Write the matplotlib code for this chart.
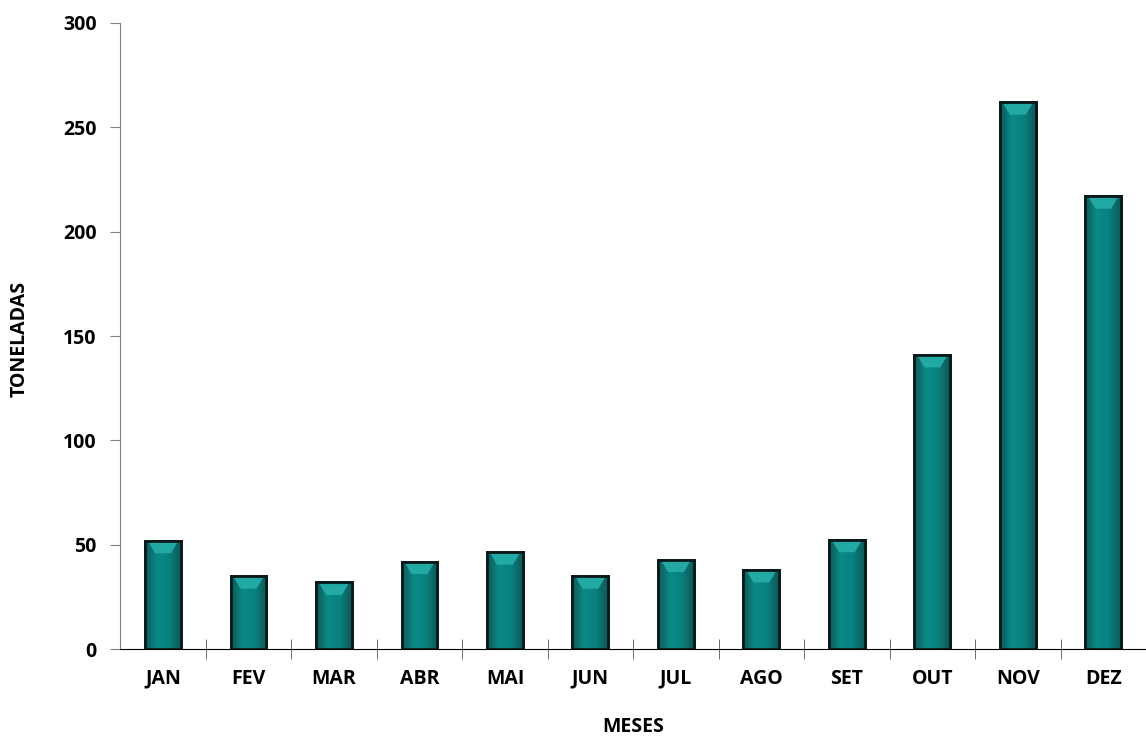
import numpy as np
import matplotlib
matplotlib.use("Agg")
import matplotlib.pyplot as plt
from matplotlib.colors import LinearSegmentedColormap

# Data
months = ["JAN", "FEV", "MAR", "ABR", "MAI", "JUN", "JUL", "AGO", "SET", "OUT", "NOV", "DEZ"]
tons = [52, 35, 32, 42, 46.5, 35, 43, 38, 52.5, 141, 262, 217]

plt.rcParams['font.family'] = ['Open Sans', 'DejaVu Sans']

fig = plt.figure(figsize=(11.46, 7.37), dpi=100)
ax = fig.add_axes([0.105, 0.119, 0.895, 0.85])

x = np.arange(len(months))
bars = ax.bar(x, tons, width=0.42, color="#008080", edgecolor="#0a1a1a", linewidth=2, zorder=2)

# bevel-like shading: dark sides, lighter centre
cmap = LinearSegmentedColormap.from_list("bevel", ["#0d5a58", "#0a8a87", "#08807e", "#0d5a58"])
grad = np.linspace(0, 1, 64).reshape(1, -1)
for b in bars:
    x0, w, h = b.get_x(), b.get_width(), b.get_height()
    im = ax.imshow(grad, cmap=cmap, aspect="auto", extent=[x0, x0 + w, 0, h], zorder=2.5)
    im.set_clip_path(b)
    # lighter top cap
    cap = min(h * 0.35, 6)
    ax.fill([x0 + w * 0.1, x0 + w * 0.9, x0 + w * 0.72, x0 + w * 0.28],
            [h - 0.8, h - 0.8, h - cap, h - cap], color="#22a9a4", zorder=2.6, lw=0)
    ax.bar(x0 + w / 2, h, width=w, fill=False, edgecolor="#0a1a1a", linewidth=2, zorder=3)

ax.set_xlim(-0.5, len(months) - 0.5)
ax.set_ylim(0, 300)
ax.set_yticks(range(0, 301, 50))
ax.set_xticks(x)
ax.set_xticklabels(months, fontsize=14, fontweight="bold")
ax.set_xticks(np.arange(0.5, len(months) - 0.5, 1), minor=True)
ax.tick_params(axis="x", which="major", length=0, pad=14)
ax.tick_params(axis="x", which="minor", direction="inout", length=14, color="#555555")
ax.tick_params(axis="y", direction="out", length=7, color="#808080", labelsize=14, pad=10)
for lbl in ax.get_yticklabels():
    lbl.set_fontweight("bold")

ax.spines["top"].set_visible(False)
ax.spines["right"].set_visible(False)
ax.spines["left"].set_color("#808080")
ax.spines["bottom"].set_color("black")

ax.set_xlabel("MESES", fontsize=14, fontweight="bold", va="center")
ax.xaxis.set_label_coords(0.5, -0.124)
ax.set_ylabel("TONELADAS", fontsize=14, fontweight="bold", va="center")
ax.yaxis.set_label_coords(-0.098, 0.495)

fig.savefig("out.png", dpi=100)
